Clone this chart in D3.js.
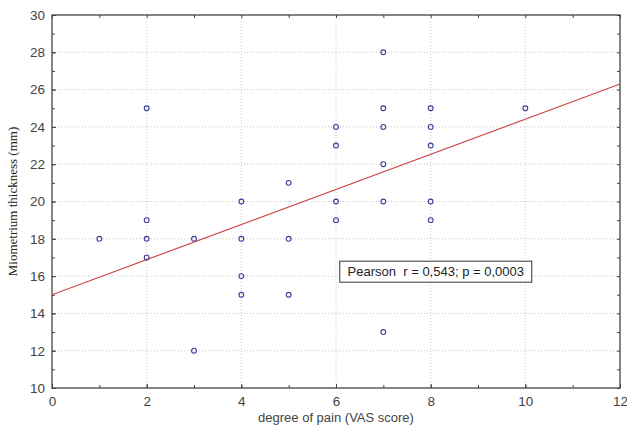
<!DOCTYPE html>
<html>
<head>
<meta charset="utf-8">
<script src="https://cdn.jsdelivr.net/npm/d3@7"></script>
<style>
  body { margin: 0; background: #fff; }
  svg text { font-family: Arial, "Liberation Sans", sans-serif; }
</style>
</head>
<body>
<svg id="chart" width="627" height="429"></svg>
<script>
// pain score (VAS) and miometrium thickness (mm)
const painScore = [1, 2, 2, 2, 2, 3, 3, 4, 4, 4, 4, 5, 5, 5, 6, 6, 6, 6, 7, 7, 7, 7, 7, 7, 8, 8, 8, 8, 8, 10];
const thickness = [18, 25, 19, 18, 17, 18, 12, 20, 18, 16, 15, 21, 18, 15, 24, 23, 20, 19, 28, 25, 24, 22, 20, 13, 25, 24, 23, 20, 19, 25];
// fitted line end points
const fitX = [0, 12];
const fitY = [15.0, 26.3];
const xTicks = [0, 2, 4, 6, 8, 10, 12];
const yTicks = [10, 12, 14, 16, 18, 20, 22, 24, 26, 28, 30];
const pearsonLabel = "Pearson  r = 0,543; p = 0,0003";

const svg = d3.select("#chart");
const margin = { left: 52, right: 7, top: 15, bottom: 41 };
const W = 627, H = 429;

const x = d3.scaleLinear().domain([0, 12]).range([margin.left, W - margin.right]);
const y = d3.scaleLinear().domain([10, 30]).range([H - margin.bottom, margin.top]);

// grid
const grid = svg.append("g").attr("stroke", "#c8c8c8").attr("stroke-dasharray", "1,2");
grid.selectAll(".gx").data(xTicks.slice(1, -1)).join("line")
  .attr("x1", d => x(d)).attr("x2", d => x(d))
  .attr("y1", y(10)).attr("y2", y(30));
grid.selectAll(".gy").data(yTicks.slice(1, -1)).join("line")
  .attr("x1", x(0)).attr("x2", x(12))
  .attr("y1", d => y(d)).attr("y2", d => y(d));

// axes (ticks pointing inward)
const minorX = d3.range(0, 13, 1);
const minorY = d3.range(10, 31, 1);

const axisStyle = g => {
  g.select(".domain").remove();
  g.selectAll("line").attr("stroke", "#444");
  g.selectAll("text").attr("fill", "#444").attr("font-size", 13.5);
};

svg.append("g").attr("transform", `translate(0,${y(10)})`)
  .call(d3.axisBottom(x).tickValues(xTicks).tickSize(-4).tickPadding(8).tickFormat(d3.format("d")))
  .call(axisStyle);
svg.append("g").attr("transform", `translate(0,${y(10)})`)
  .call(d3.axisBottom(x).tickValues(minorX).tickSize(-3).tickFormat(""))
  .call(axisStyle);
svg.append("g").attr("transform", `translate(0,${y(30)})`)
  .call(d3.axisTop(x).tickValues(minorX).tickSize(-3).tickFormat(""))
  .call(axisStyle);
svg.append("g").attr("transform", `translate(${x(0)},0)`)
  .call(d3.axisLeft(y).tickValues(yTicks).tickSize(-4).tickPadding(7).tickFormat(d3.format("d")))
  .call(axisStyle);
svg.append("g").attr("transform", `translate(${x(0)},0)`)
  .call(d3.axisLeft(y).tickValues(minorY).tickSize(-3).tickFormat(""))
  .call(axisStyle);
svg.append("g").attr("transform", `translate(${x(12)},0)`)
  .call(d3.axisRight(y).tickValues(minorY).tickSize(-3).tickFormat(""))
  .call(axisStyle);

// frame
svg.append("rect")
  .attr("x", x(0)).attr("y", y(30))
  .attr("width", x(12) - x(0)).attr("height", y(10) - y(30))
  .attr("fill", "none").attr("stroke", "#444").attr("stroke-width", 1.3);

// regression line
svg.append("line")
  .attr("x1", x(fitX[0])).attr("y1", y(fitY[0]))
  .attr("x2", x(fitX[1])).attr("y2", y(fitY[1]))
  .attr("stroke", "#cc4a4a").attr("stroke-width", 1.2);

// points
svg.append("g").selectAll("circle").data(painScore).join("circle")
  .attr("cx", d => x(d))
  .attr("cy", (d, i) => y(thickness[i]))
  .attr("r", 2.4)
  .attr("fill", "none")
  .attr("stroke", "#3b3b9c")
  .attr("stroke-width", 1.1);

// annotation box
const box = svg.append("g").attr("transform", `translate(${x(6.08)},${y(16.8)})`);
box.append("rect").attr("width", 192).attr("height", 21)
  .attr("fill", "#fff").attr("stroke", "#333").attr("stroke-width", 1);
box.append("text").attr("x", 96).attr("y", 15)
  .attr("text-anchor", "middle")
  .style("white-space", "pre")
  .attr("font-size", 13).attr("fill", "#222").text(pearsonLabel);

// axis titles
svg.append("text")
  .attr("x", (x(0) + x(12)) / 2).attr("y", 422)
  .attr("text-anchor", "middle").attr("font-size", 13).attr("fill", "#444")
  .text("degree of pain (VAS score)");
svg.append("text")
  .attr("transform", `translate(17,${(y(10) + y(30)) / 2}) rotate(-90)`)
  .attr("text-anchor", "middle")
  .style("font-family", "'Liberation Serif', 'DejaVu Serif', serif")
  .attr("font-size", 13).attr("fill", "#222")
  .text("Miometrium thickness (mm)");
</script>
</body>
</html>
